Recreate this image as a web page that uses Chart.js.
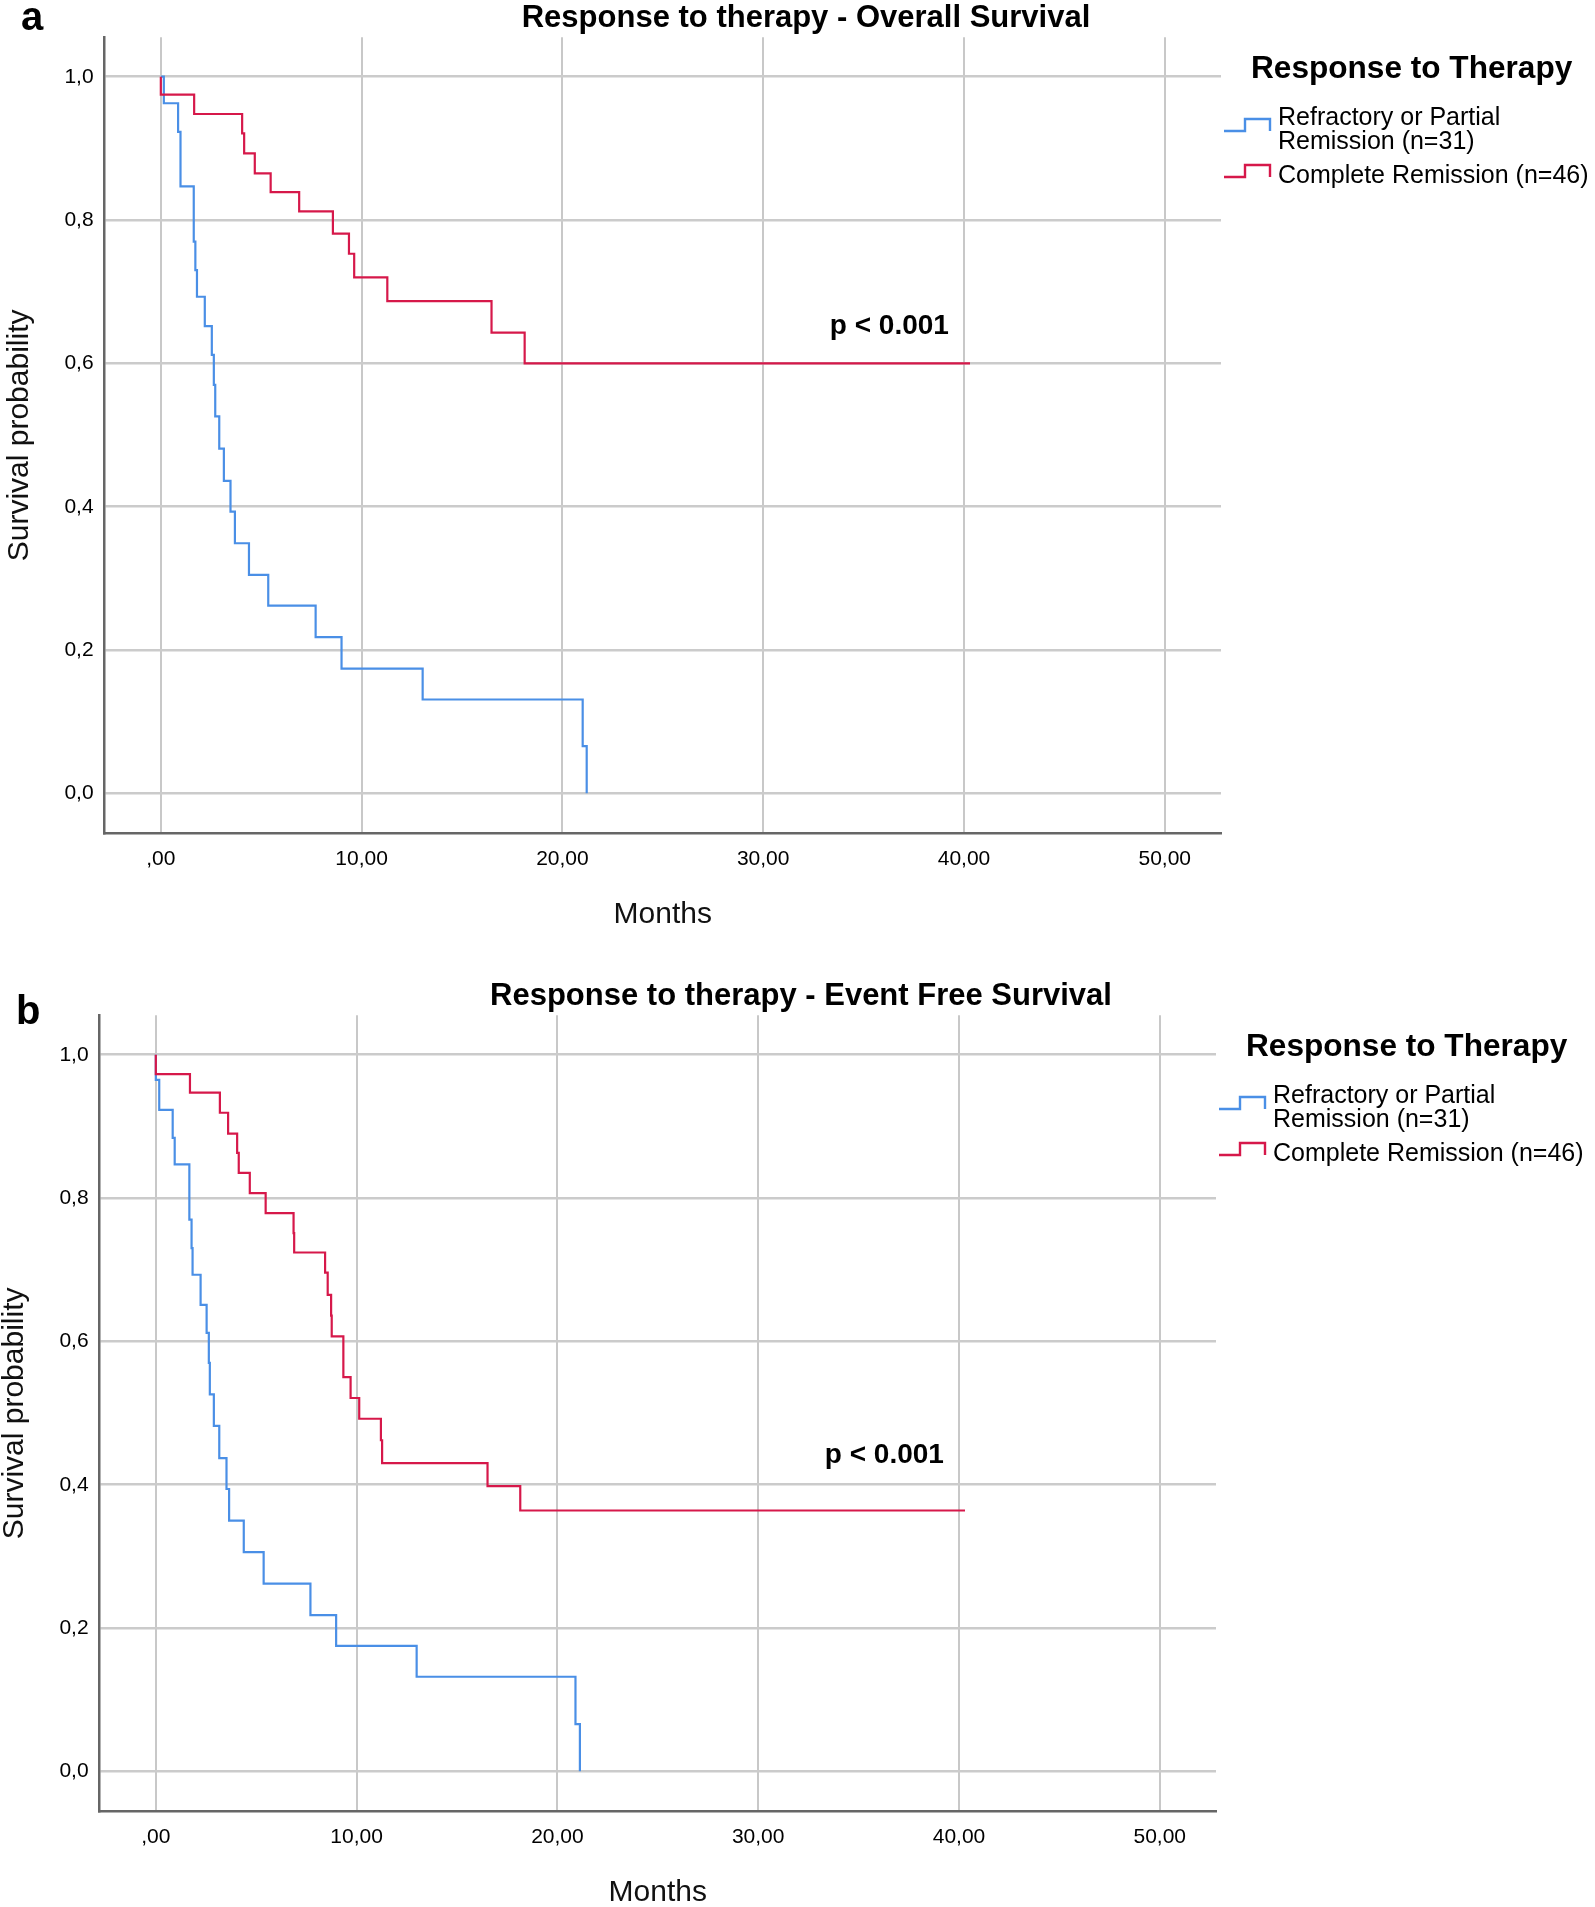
<!DOCTYPE html>
<html>
<head>
<meta charset="utf-8">
<script src="https://cdn.jsdelivr.net/npm/chart.js@4.4.1/dist/chart.umd.min.js"></script>
<style>
  html, body { margin: 0; padding: 0; background: #fff; overflow: hidden; width: 1595px; height: 1907px; }
  .panel { position: absolute; width: 1595px; height: 979px; }
  #panelA { left: 0; top: 0; }
  #panelB { left: -5px; top: 978px; }
</style>
</head>
<body>
<div class="panel" id="panelA"><canvas id="chartA" width="1595" height="979"></canvas></div>
<div class="panel" id="panelB"><canvas id="chartB" width="1595" height="979"></canvas></div>
<script>
const FONT = '"Liberation Sans", Arial, sans-serif';
const BLUE = "#4a8fe6";
const RED = "#d6184a";

const xTicks = [0, 10, 20, 30, 40, 50];
const xTickLabels = [",00", "10,00", "20,00", "30,00", "40,00", "50,00"];
const yTicks = [0, 0.2, 0.4, 0.6, 0.8, 1.0];
const yTickLabels = ["0,0", "0,2", "0,4", "0,6", "0,8", "1,0"];

const seriesLabels = ["Refractory or Partial\nRemission (n=31)", "Complete Remission (n=46)"];

// (a) overall survival
const osRefTime = [0, 0.15, 0.86, 0.98, 1.64, 1.72, 1.80, 2.19, 2.54, 2.64, 2.71, 2.91, 3.14, 3.47, 3.69, 4.39, 5.35, 7.71, 9.00, 13.04, 21.01, 21.21];
const osRefSurv = [1, 0.963, 0.923, 0.847, 0.770, 0.730, 0.693, 0.652, 0.612, 0.570, 0.526, 0.481, 0.436, 0.393, 0.349, 0.305, 0.262, 0.218, 0.174, 0.131, 0.066, 0];
const osComTime = [0, 0, 1.66, 4.05, 4.15, 4.68, 5.47, 6.89, 8.57, 9.37, 9.63, 11.28, 16.47, 18.12, 40.3];
const osComSurv = [1, 0.975, 0.948, 0.921, 0.893, 0.865, 0.839, 0.812, 0.781, 0.753, 0.720, 0.687, 0.643, 0.600, 0.600];

// (b) event free survival
const efsRefTime = [0, 0, 0.17, 0.84, 0.94, 1.67, 1.78, 1.83, 2.23, 2.53, 2.64, 2.69, 2.89, 3.16, 3.52, 3.65, 4.38, 5.37, 7.70, 8.98, 12.99, 20.90, 21.12];
const efsRefSurv = [1, 0.965, 0.923, 0.884, 0.847, 0.770, 0.730, 0.693, 0.651, 0.612, 0.570, 0.526, 0.482, 0.437, 0.394, 0.350, 0.306, 0.262, 0.218, 0.175, 0.132, 0.066, 0];
const efsComTime = [0, 0, 1.70, 3.19, 3.60, 4.05, 4.13, 4.68, 5.47, 6.86, 6.89, 8.43, 8.56, 8.73, 8.76, 9.34, 9.70, 10.13, 11.21, 11.27, 16.52, 18.15, 40.3];
const efsComSurv = [1, 0.973, 0.947, 0.919, 0.890, 0.863, 0.835, 0.807, 0.779, 0.751, 0.724, 0.696, 0.665, 0.636, 0.607, 0.550, 0.521, 0.492, 0.462, 0.430, 0.398, 0.364, 0.364];

const toPoints = (t, s) => t.map((v, i) => ({ x: v, y: s[i] }));

// titles, panel letter, p value and the step-icon legend
const kmText = {
    id: "kmText",
    afterDraw(chart, args, o) {
        const { ctx, scales: { x, y } } = chart;
        ctx.save();
        ctx.fillStyle = "#000";
        ctx.textBaseline = "alphabetic";

        ctx.textAlign = "left";
        ctx.font = `bold 40px ${FONT}`;
        ctx.fillText(o.letter, o.letterX, o.letterY);

        ctx.textAlign = "center";
        ctx.font = `bold 31px ${FONT}`;
        ctx.fillText(o.title, 806, 26.5);

        ctx.textAlign = "right";
        ctx.font = `bold 28px ${FONT}`;
        ctx.fillText("p < 0.001", x.getPixelForValue(o.pAt[0]), y.getPixelForValue(o.pAt[1]));

        ctx.textAlign = "left";
        ctx.font = `bold 31.6px ${FONT}`;
        ctx.fillText("Response to Therapy", 1251, 77.5);

        ctx.font = `25px ${FONT}`;
        let base = 124.5;
        chart.data.datasets.forEach(ds => {
            const lines = ds.label.split("\n");
            const mid = base + (lines.length - 1) * 12 - 11.5;
            ctx.strokeStyle = ds.borderColor;
            ctx.lineWidth = 2.4;
            ctx.beginPath();
            ctx.moveTo(1224, mid + 6);
            ctx.lineTo(1245, mid + 6);
            ctx.lineTo(1245, mid - 6);
            ctx.lineTo(1270, mid - 6);
            ctx.lineTo(1270, mid + 6);
            ctx.stroke();
            lines.forEach((ln, k) => ctx.fillText(ln, 1278, base + k * 24));
            base += (lines.length - 1) * 24 + 34;
        });
        ctx.restore();
    }
};

function makeChart(id, text) {
    return new Chart(document.getElementById(id), {
        type: "scatter",
        data: {
            datasets: [
                { label: seriesLabels[0], data: toPoints(text.refT, text.refS), borderColor: BLUE, order: 1 },
                { label: seriesLabels[1], data: toPoints(text.comT, text.comS), borderColor: RED, order: 0 }
            ].map(d => Object.assign(d, { showLine: true, stepped: "before", pointRadius: 0, borderWidth: 2.2, fill: false }))
        },
        options: {
            responsive: false,
            animation: false,
            layout: { padding: { left: 0, top: 37.3, right: 374, bottom: 46 } },
            plugins: { legend: { display: false }, tooltip: { enabled: false }, kmText: text },
            scales: {
                x: {
                    type: "linear", min: -2.8, max: 52.8,
                    afterBuildTicks: s => { s.ticks = xTicks.map(v => ({ value: v })); },
                    afterFit: s => { s.height = 99.5; },
                    ticks: { callback: (v, i) => xTickLabels[i], font: { family: FONT, size: 21 }, color: "#000", padding: 13, maxRotation: 0, autoSkip: false },
                    grid: { color: "#c8c8c8", lineWidth: 2, drawTicks: false },
                    border: { color: "#666666", width: 2.5 },
                    title: { display: true, text: "Months", font: { family: FONT, size: 30 }, color: "#111", padding: 0 }
                },
                y: {
                    type: "linear", min: -0.056, max: 1.055,
                    afterBuildTicks: s => { s.ticks = yTicks.map(v => ({ value: v })); },
                    afterFit: s => { s.width = 104.6; },
                    ticks: { callback: (v, i) => yTickLabels[i], font: { family: FONT, size: 21 }, color: "#000", padding: 11, autoSkip: false },
                    grid: { color: "#cbcbcb", lineWidth: 2.6, drawTicks: false },
                    border: { color: "#666666", width: 2.5 },
                    title: { display: true, text: "Survival probability", font: { family: FONT, size: 30 }, color: "#111", padding: { top: 2, bottom: 0 } }
                }
            }
        },
        plugins: [kmText]
    });
}

makeChart("chartA", {
    title: "Response to therapy - Overall Survival",
    letter: "a", letterX: 21, letterY: 30, pAt: [39.25, 0.641],
    refT: osRefTime, refS: osRefSurv, comT: osComTime, comS: osComSurv
});
makeChart("chartB", {
    title: "Response to therapy - Event Free Survival",
    letter: "b", letterX: 21, letterY: 46, pAt: [39.25, 0.430],
    refT: efsRefTime, refS: efsRefSurv, comT: efsComTime, comS: efsComSurv
});
</script>
</body>
</html>
